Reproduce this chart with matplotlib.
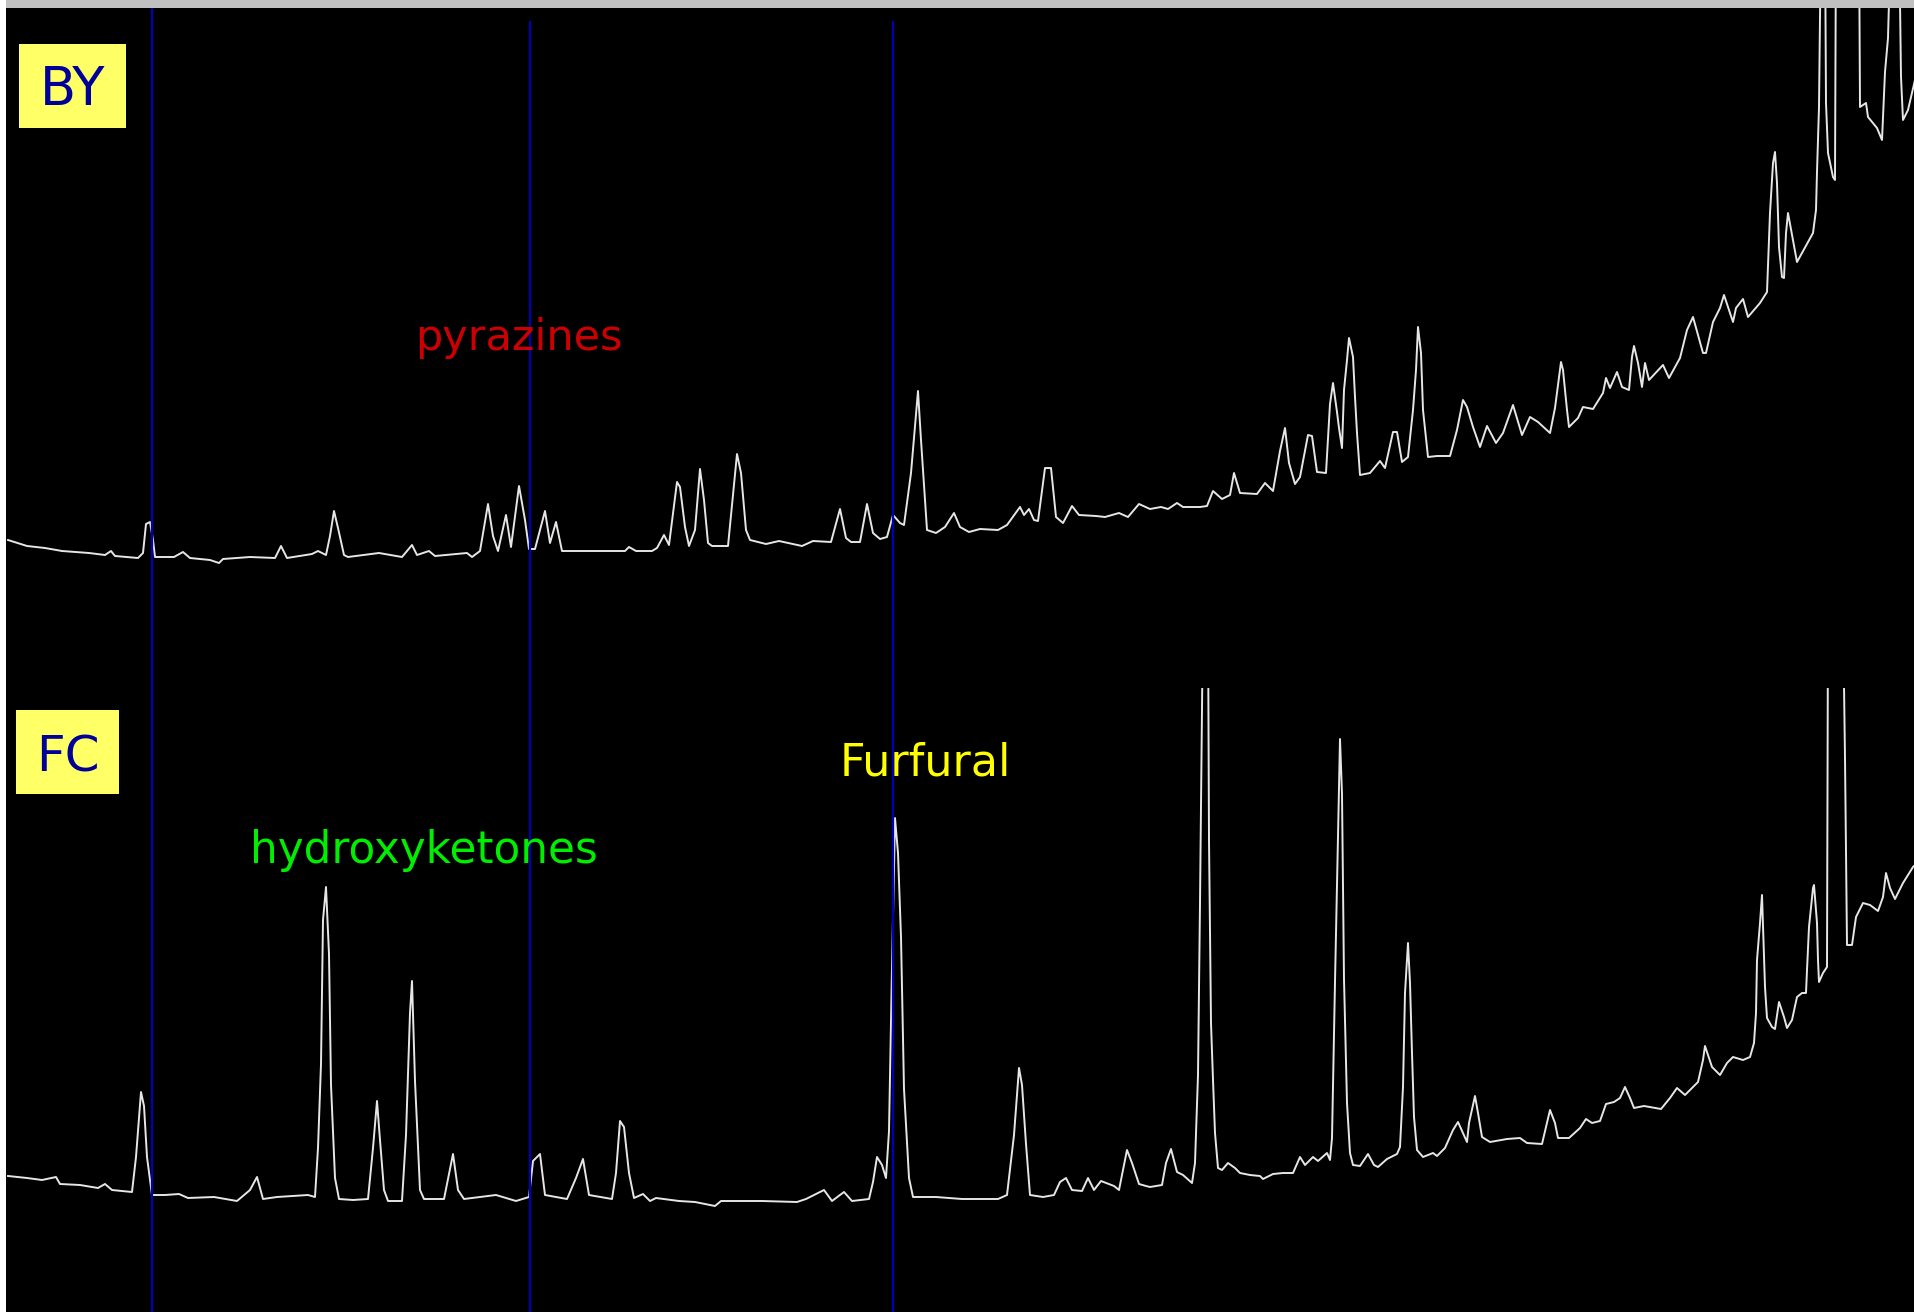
import numpy as np
import matplotlib
matplotlib.use('Agg')
import matplotlib.pyplot as plt
from matplotlib.patches import Rectangle

# BY chromatogram (scan, signal)
by_scan = [8, 27, 45, 62, 89, 105, 111, 115, 138, 143, 146, 150, 153, 155, 174, 183, 190, 210, 219, 223,
           250, 275, 281, 287, 312, 318, 326, 330, 334, 338, 344, 348, 379, 402, 412, 417, 429, 435, 467, 472,
           480, 488, 493, 498, 506, 511, 519, 525, 529, 535, 545, 550, 556, 562, 580, 607, 625, 629, 636, 652,
           657, 664, 669, 677, 680, 685, 689, 695, 700, 704, 708, 712, 728, 737, 741, 746, 750, 766, 779, 788,
           802, 813, 831, 840, 846, 851, 860, 867, 873, 880, 887, 893, 900, 904, 911, 918, 921, 927, 936, 945,
           954, 960, 969, 980, 998, 1007, 1020, 1024, 1029, 1034, 1038, 1045, 1051, 1056, 1063, 1072, 1079, 1096, 1105, 1119,
           1128, 1139, 1150, 1161, 1168, 1177, 1183, 1200, 1207, 1213, 1222, 1230, 1234, 1240, 1257, 1265, 1273, 1280, 1285, 1289,
           1295, 1300, 1308, 1312, 1317, 1326, 1330, 1333, 1337, 1339, 1342, 1344, 1347, 1349, 1353, 1355, 1357, 1360, 1370, 1380,
           1385, 1393, 1397, 1402, 1408, 1413, 1416, 1418, 1421, 1423, 1428, 1437, 1450, 1457, 1463, 1467, 1473, 1480, 1487, 1496,
           1503, 1513, 1522, 1530, 1538, 1550, 1555, 1561, 1563, 1567, 1569, 1578, 1583, 1593, 1603, 1606, 1610, 1617, 1622, 1629,
           1632, 1634, 1638, 1642, 1645, 1649, 1663, 1669, 1680, 1687, 1693, 1703, 1706, 1713, 1720, 1724, 1729, 1733, 1736, 1743,
           1748, 1760, 1767, 1770, 1773, 1775, 1777, 1779, 1782, 1784, 1786, 1788, 1797, 1813, 1816, 1817, 1819, 1821, 1825, 1826,
           1828, 1833, 1835, 1836, 1859, 1860, 1866, 1868, 1877, 1882, 1883, 1885, 1888, 1891, 1899, 1901, 1903, 1908, 1915]
by_signal = [148, 142, 140, 137, 135, 133, 137, 132, 130, 135, 164, 166, 148, 131, 131, 136, 130, 128, 125, 129,
             131, 130, 142, 130, 134, 137, 133, 152, 177, 160, 133, 131, 135, 131, 143, 133, 137, 132, 135, 131,
             137, 184, 152, 137, 173, 141, 202, 168, 139, 139, 177, 145, 166, 137, 137, 137, 137, 141, 137, 137,
             140, 153, 143, 206, 201, 161, 142, 158, 219, 188, 145, 142, 142, 234, 215, 158, 148, 144, 147, 145,
             142, 147, 146, 179, 150, 146, 146, 184, 155, 149, 151, 173, 165, 163, 215, 297, 248, 158, 155, 161,
             175, 161, 156, 159, 158, 163, 181, 173, 179, 168, 167, 220, 220, 171, 165, 182, 173, 172, 171, 175,
             171, 184, 179, 181, 179, 185, 181, 181, 182, 197, 189, 193, 215, 195, 194, 205, 197, 237, 260, 225,
             204, 211, 253, 252, 216, 215, 284, 305, 276, 260, 240, 298, 328, 350, 331, 291, 255, 213, 215, 227,
             220, 256, 256, 226, 231, 278, 318, 361, 335, 278, 231, 232, 232, 258, 288, 281, 261, 241, 262, 245,
             255, 283, 253, 271, 266, 255, 280, 326, 318, 278, 261, 270, 281, 279, 295, 310, 300, 316, 301, 298,
             331, 342, 325, 301, 325, 308, 323, 310, 330, 358, 371, 335, 335, 366, 380, 393, 378, 366, 380, 389,
             371, 385, 396, 475, 525, 536, 505, 441, 411, 410, 455, 475, 426, 455, 478, 516, 581, 760, 760, 585,
             535, 511, 508, 760, 760, 581, 585, 571, 560, 548, 570, 616, 650, 760, 760, 611, 568, 578, 608]

# FC chromatogram (scan, signal)
fc_scan = [8, 27, 42, 56, 60, 80, 98, 105, 112, 132, 136, 141, 144, 147, 152, 165, 179, 188, 214, 237,
           250, 257, 263, 277, 308, 315, 318, 321, 323, 326, 329, 331, 335, 339, 353, 368, 373, 377, 380, 384,
           388, 402, 406, 410, 412, 415, 420, 424, 444, 453, 458, 464, 496, 516, 529, 533, 540, 545, 567, 576,
           583, 589, 612, 616, 620, 624, 629, 634, 643, 650, 656, 679, 695, 715, 721, 762, 797, 806, 824, 832,
           844, 852, 869, 873, 877, 882, 886, 889, 892, 895, 898, 901, 904, 909, 913, 936, 962, 998, 1007, 1014,
           1019, 1022, 1026, 1030, 1043, 1054, 1060, 1066, 1072, 1082, 1088, 1094, 1101, 1114, 1119, 1127, 1132, 1139, 1146, 1150,
           1162, 1166, 1171, 1177, 1183, 1192, 1195, 1198, 1200, 1203, 1208, 1209, 1211, 1213, 1215, 1218, 1222, 1228, 1235, 1240,
           1250, 1260, 1263, 1273, 1283, 1293, 1300, 1305, 1313, 1318, 1327, 1330, 1332, 1333, 1335, 1340, 1342, 1344, 1347, 1350,
           1353, 1360, 1368, 1374, 1378, 1387, 1397, 1400, 1403, 1405, 1408, 1410, 1412, 1414, 1417, 1423, 1433, 1437, 1445, 1453,
           1458, 1467, 1469, 1475, 1478, 1482, 1490, 1507, 1520, 1527, 1542, 1550, 1555, 1558, 1569, 1580, 1586, 1592, 1600, 1606,
           1614, 1620, 1625, 1630, 1634, 1644, 1661, 1670, 1677, 1685, 1698, 1703, 1705, 1712, 1720, 1727, 1733, 1743, 1750, 1754,
           1756, 1757, 1760, 1762, 1765, 1767, 1772, 1775, 1779, 1784, 1787, 1792, 1797, 1802, 1806, 1807, 1809, 1813, 1814, 1817,
           1818, 1819, 1823, 1827, 1828, 1843, 1845, 1847, 1852, 1856, 1863, 1870, 1878, 1883, 1886, 1890, 1895, 1903, 1913, 1915]
fc_signal = [136, 134, 132, 135, 128, 127, 124, 128, 122, 120, 155, 220, 206, 155, 117, 117, 118, 114, 115, 111,
             122, 135, 113, 115, 117, 115, 164, 248, 392, 425, 358, 227, 134, 113, 112, 113, 164, 211, 172, 122,
             111, 111, 177, 299, 331, 231, 122, 113, 113, 158, 122, 113, 117, 111, 115, 151, 158, 117, 113, 134,
             153, 117, 113, 139, 191, 185, 139, 114, 118, 111, 114, 111, 110, 106, 111, 111, 110, 113, 122, 111,
             120, 111, 113, 130, 155, 147, 134, 181, 345, 494, 459, 375, 223, 134, 115, 115, 113, 113, 117, 177,
             244, 227, 168, 117, 115, 117, 130, 134, 122, 121, 134, 122, 131, 126, 122, 162, 149, 128, 126, 125,
             127, 149, 163, 140, 137, 129, 149, 237, 409, 700, 700, 472, 289, 232, 179, 144, 142, 149, 144, 139,
             137, 136, 133, 138, 139, 139, 155, 147, 155, 151, 159, 152, 174, 225, 330, 573, 518, 333, 209, 159,
             147, 146, 158, 147, 145, 153, 158, 165, 225, 319, 369, 329, 259, 195, 162, 155, 159, 156, 164, 182,
             190, 170, 189, 216, 199, 175, 170, 173, 174, 169, 168, 202, 189, 174, 174, 184, 193, 189, 191, 208,
             210, 214, 225, 214, 204, 206, 203, 214, 224, 217, 230, 252, 266, 245, 237, 249, 255, 252, 255, 269,
             299, 352, 389, 417, 325, 294, 285, 283, 310, 295, 284, 292, 315, 319, 319, 342, 385, 424, 427, 389,
             352, 330, 339, 345, 700, 700, 554, 367, 367, 395, 409, 407, 401, 415, 439, 424, 413, 429, 445, 447]

marker_scans = [152, 530, 893]
marker_tops = [1306, 1291, 1291]

W, H = 1915, 1312
fig = plt.figure(figsize=(W / 100, H / 100), dpi=100, facecolor='white')

# grey title strip
fig.patches.append(Rectangle((6 / W, 1 - 8 / H), 1, 8 / H, transform=fig.transFigure,
                             facecolor='#c0c0c0', edgecolor='none'))

x0 = 6 / W
xw = (W - 6) / W

# upper trace panel
ax1 = fig.add_axes([x0, (H - 688) / H, xw, 680 / H])
ax1.set_facecolor('black')
ax1.plot(by_scan, by_signal, color='#e6e6e6', lw=1.4)
ax1.set_xlim(6, 1915)
ax1.set_ylim(0, 680)

# lower trace panel
ax2 = fig.add_axes([x0, 0, xw, (H - 688) / H])
ax2.set_facecolor('black')
ax2.plot(fc_scan, fc_signal, color='#e6e6e6', lw=1.4)
ax2.set_xlim(6, 1915)
ax2.set_ylim(0, 624)

for ax in (ax1, ax2):
    ax.set_xticks([])
    ax.set_yticks([])
    for s in ax.spines.values():
        s.set_visible(False)

# marker lines across both traces
ax3 = fig.add_axes([x0, 0, xw, 1])
ax3.patch.set_alpha(0)
ax3.vlines(marker_scans, 0, marker_tops, color='#0000b4', lw=1.6)
ax3.set_xlim(6, 1915)
ax3.set_ylim(0, H)
ax3.axis('off')

# sample tags
fig.patches.append(Rectangle((19 / W, 1 - 128 / H), 107 / W, 84 / H, transform=fig.transFigure,
                             facecolor='#ffff66', edgecolor='none', zorder=5))
fig.text(72.5 / W, 1 - 105 / H, 'BY', color='#000099', fontsize=38, ha='center', va='baseline', zorder=6)
fig.patches.append(Rectangle((16 / W, 1 - 794 / H), 103 / W, 84 / H, transform=fig.transFigure,
                             facecolor='#ffff66', edgecolor='none', zorder=5))
fig.text(67.5 / W, 1 - 772 / H, 'FC', color='#000099', fontsize=36, ha='center', va='baseline', zorder=6)

# compound groups
fig.text(415 / W, 1 - 350 / H, 'pyrazines', color='#cc0000', fontsize=31, ha='left', va='baseline')
fig.text(250 / W, 1 - 863 / H, 'hydroxyketones', color='#00ee00', fontsize=31.5, ha='left', va='baseline')
fig.text(840 / W, 1 - 776 / H, 'Furfural', color='#ffff00', fontsize=32, ha='left', va='baseline')

fig.savefig('out.png', dpi=100, facecolor='white')
